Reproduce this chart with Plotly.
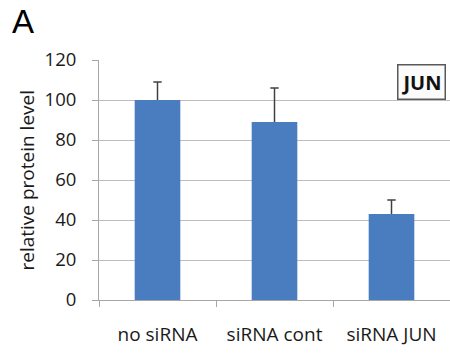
import plotly.graph_objects as go

# Relative JUN protein level after siRNA treatment
categories = ["no siRNA", "siRNA cont", "siRNA JUN"]
levels = [100, 89, 43]
errors_up = [9, 17, 7]
errors_down = [0, 0, 0]
y_ticks = [0, 20, 40, 60, 80, 100, 120]

BAR_COLOR = "#4a7dbf"
AXIS_GRAY = "#a6a6a6"
GRID_GRAY = "#bdbdbd"
WHISKER = "#404040"
TEXT_COLOR = "#1a1a1a"
FONT = "Open Sans"

W, H = 450, 354
L, R, T, B = 99, 0, 60, 54
plot_w = W - L - R
plot_h = H - T - B


def px_to_paper_x(px):
    return (px - L) / plot_w


def px_to_paper_y(py):
    return (H - B - py) / plot_h


fig = go.Figure()

# bars with an upward whisker only (no end caps from the error bar itself)
fig.add_trace(go.Bar(
    x=categories, y=levels, width=0.39,
    marker=dict(color=BAR_COLOR, line=dict(width=0)),
    error_y=dict(type="data", symmetric=False, array=errors_up,
                 arrayminus=errors_down, color=WHISKER,
                 thickness=1.5, width=0),
    showlegend=False, hoverinfo="skip",
))

# short horizontal cap at the top of each whisker
cap_tops = [v + e for v, e in zip(levels, errors_up)]
fig.add_trace(go.Scatter(
    x=categories, y=cap_tops, mode="markers",
    marker=dict(symbol="line-ew", size=6,
                line=dict(color=WHISKER, width=1.5)),
    showlegend=False, hoverinfo="skip", cliponaxis=False,
))

fig.update_layout(
    width=W, height=H,
    margin=dict(l=L, r=R, t=T, b=B, pad=0),
    paper_bgcolor="white", plot_bgcolor="white",
    font=dict(family=FONT, color=TEXT_COLOR),
    xaxis=dict(
        type="category", tickson="boundaries", ticks="outside",
        ticklen=6, tickcolor=AXIS_GRAY, tickwidth=1,
        showline=True, linecolor=AXIS_GRAY, linewidth=1,
        showgrid=False, tickfont=dict(family=FONT, size=19, color=TEXT_COLOR),
        ticklabelstandoff=17,
    ),
    yaxis=dict(
        range=[0, 120], tickvals=y_ticks, ticks="outside",
        ticklen=6, tickcolor=AXIS_GRAY, tickwidth=1,
        showline=True, linecolor=AXIS_GRAY, linewidth=1,
        showgrid=True, gridcolor=GRID_GRAY, gridwidth=1,
        zeroline=False,
        tickfont=dict(family=FONT, size=18.5, color=TEXT_COLOR),
        ticklabelstandoff=12,
    ),
    annotations=[
        dict(text="relative protein level", textangle=-90,
             xref="paper", yref="paper",
             x=px_to_paper_x(26), y=px_to_paper_y(180.5),
             xanchor="center", yanchor="middle", showarrow=False,
             font=dict(family=FONT, size=19, color=TEXT_COLOR)),
        dict(text="<b>JUN</b>", xref="paper", yref="paper",
             x=px_to_paper_x(421), y=px_to_paper_y(82),
             xanchor="center", yanchor="middle", showarrow=False,
             font=dict(family=FONT, size=20, color="#111111"),
             bordercolor="#595959", borderwidth=1.5, borderpad=3,
             bgcolor="#fbfbfb"),
        dict(text="A", xref="paper", yref="paper",
             x=px_to_paper_x(10), y=px_to_paper_y(22),
             xanchor="left", yanchor="middle", showarrow=False,
             font=dict(family="Liberation Sans", size=33, color="#000000")),
    ],
)

fig.write_html("out.html")
